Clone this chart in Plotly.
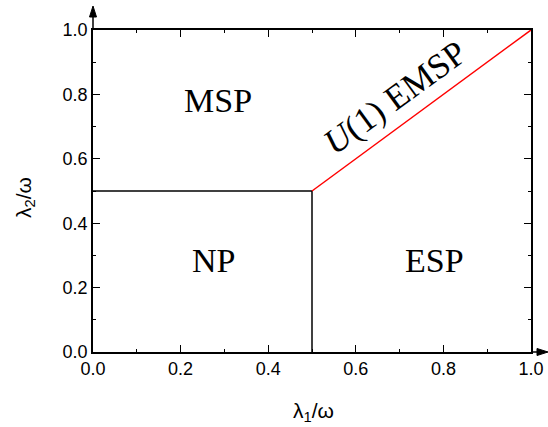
import plotly.graph_objects as go

# Phase boundaries
np_top_x = [0.0, 0.5]
np_top_y = [0.5, 0.5]
np_right_x = [0.5, 0.5]
np_right_y = [0.0, 0.5]
emsp_x = [0.5, 1.0]
emsp_y = [0.5, 1.0]

# Phase labels
label_text = ["MSP", "NP", "ESP"]
label_x = [0.285, 0.274, 0.779]
label_y = [0.78, 0.283, 0.283]

tick_vals = [0.0, 0.2, 0.4, 0.6, 0.8, 1.0]
tick_text = ["0.0", "0.2", "0.4", "0.6", "0.8", "1.0"]

fig = go.Figure()
fig.add_trace(go.Scatter(x=np_top_x, y=np_top_y, mode="lines",
                         line=dict(color="black", width=1.5), showlegend=False))
fig.add_trace(go.Scatter(x=np_right_x, y=np_right_y, mode="lines",
                         line=dict(color="black", width=1.5), showlegend=False))
fig.add_trace(go.Scatter(x=emsp_x, y=emsp_y, mode="lines",
                         line=dict(color="red", width=1.5), showlegend=False))

serif = "Liberation Serif"
for t, x, y in zip(label_text, label_x, label_y):
    fig.add_annotation(x=x, y=y, text=t, showarrow=False,
                       xanchor="center", yanchor="middle",
                       font=dict(family=serif, size=34, color="black"))

fig.add_annotation(x=0.69, y=0.79, text="<i>U</i>(1) EMSP", showarrow=False,
                   xanchor="center", yanchor="middle",
                   textangle=-36, font=dict(family=serif, size=35, color="black"))

axis_common = dict(
    range=[0, 1], tickvals=tick_vals, ticktext=tick_text, automargin=False,
    ticks="inside", ticklen=7, tickwidth=1.2, tickcolor="black",
    showline=True, linecolor="black", linewidth=1.5, mirror="ticks",
    showgrid=False, zeroline=False,
    tickfont=dict(family="Liberation Sans", size=18, color="black"),
    minor=dict(ticks="inside", ticklen=3, tickcolor="black", dtick=0.1, tickwidth=1),
)

PW, PH = 438, 322
fig.update_layout(
    width=548, height=427,
    margin=dict(l=93, r=17, t=30, b=75),
    paper_bgcolor="white", plot_bgcolor="white",
    xaxis=axis_common,
    yaxis=axis_common,
)

# Axis titles
sans = "Liberation Sans"
fig.add_annotation(xref="paper", yref="paper", x=(313 - 93) / PW, y=(352 - 412) / PH,
                   xanchor="center", yanchor="middle",
                   text="λ<sub>1</sub>/ω", showarrow=False,
                   font=dict(family=sans, size=21, color="black"))
fig.add_annotation(xref="paper", yref="paper", x=(25 - 93) / PW, y=(352 - 198) / PH,
                   xanchor="center", yanchor="middle",
                   text="λ<sub>2</sub>/ω", showarrow=False, textangle=-90,
                   font=dict(family=sans, size=21, color="black"))

# Axis arrows as shapes (paper coordinates)
ytip = 1 + 24 / PH
ybase = 1 + 13 / PH
fig.add_shape(type="line", xref="paper", yref="paper", x0=0, x1=0, y0=1, y1=ybase,
              line=dict(color="black", width=1.5))
fig.add_shape(type="path", xref="paper", yref="paper",
              path=f"M 0,{ytip} L {-3.5 / PW},{ybase} L {3.5 / PW},{ybase} Z",
              fillcolor="black", line=dict(color="black", width=1))
xtip = 1 + 17 / PW
xbase = 1 + 6 / PW
fig.add_shape(type="line", xref="paper", yref="paper", x0=1, x1=xbase, y0=0, y1=0,
              line=dict(color="black", width=1.5))
fig.add_shape(type="path", xref="paper", yref="paper",
              path=f"M {xtip},0 L {xbase},{3.5 / PH} L {xbase},{-3.5 / PH} Z",
              fillcolor="black", line=dict(color="black", width=1))

fig.write_html("out.html")
